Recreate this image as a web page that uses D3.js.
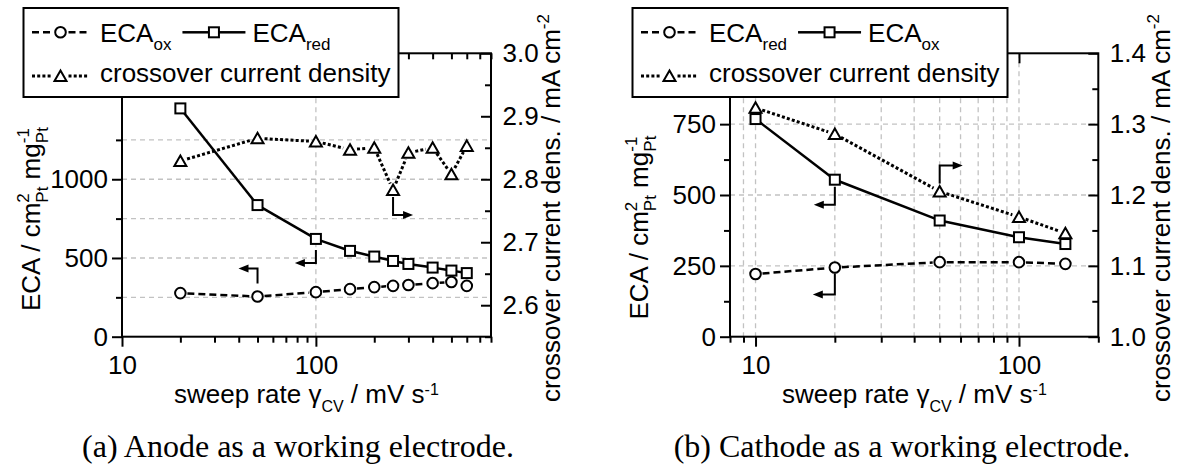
<!DOCTYPE html>
<html>
<head>
<meta charset="utf-8">
<script src="https://cdn.jsdelivr.net/npm/d3@7"></script>
<style>
  body { margin: 0; background: #fff; }
  svg text { font-family: "Liberation Sans", Arial, Helvetica, sans-serif; white-space: pre; }
</style>
</head>
<body>
<svg id="fig" width="1183" height="464"></svg>
<script>
// ---- (a) anode as working electrode ----
const anodeRates      = [20, 50, 100, 150, 200, 250, 300, 400, 500, 600];          // mV s^-1
const anodeEcaOx      = [277, 255, 283, 302, 315, 323, 328, 340, 347, 323];        // cm2 Pt / mg Pt
const anodeEcaRed     = [1450, 836, 621, 545, 509, 481, 462, 439, 420, 404];
const anodeCrossover  = [2.829, 2.865, 2.860, 2.847, 2.850, 2.783, 2.842, 2.850, 2.808, 2.853]; // mA cm^-2

// ---- (b) cathode as working electrode ----
const cathodeRates     = [10, 20, 50, 100, 150];
const cathodeEcaRed    = [221, 244, 263, 263, 257];
const cathodeEcaOx     = [768, 554, 410, 351, 327];
const cathodeCrossover = [1.323, 1.286, 1.205, 1.169, 1.146];

// ---- axis ticks ----
const anodeXMajor   = [10, 100];
const anodeXMinor   = [20, 30, 40, 50, 60, 70, 80, 90, 200, 300, 400, 500, 600, 700, 800];
const anodeXGrid    = [100];
const anodeYLMajor  = [0, 500, 1000];
const anodeYLMinor  = [250, 750, 1250];
const anodeYGrid    = [250, 500, 750, 1000, 1250];
const anodeYRMajor  = [2.6, 2.7, 2.8, 2.9, 3.0];
const anodeYRMinor  = [2.55, 2.65, 2.75, 2.85, 2.95];

const cathodeXMajor  = [10, 100];
const cathodeXMinor  = [8, 9, 20, 30, 40, 50, 60, 70, 80, 90, 200];
const cathodeXGrid   = [9, 10, 20, 30, 40, 50, 60, 70, 80, 90, 100];
const cathodeYLMajor = [0, 250, 500, 750];
const cathodeYLMinor = [125, 375, 625, 875];
const cathodeYGrid   = [250, 500, 750];
const cathodeYRMajor = [1.0, 1.1, 1.2, 1.3, 1.4];
const cathodeYRMinor = [1.05, 1.15, 1.25, 1.35];

// ---- text ----
const xTitle     = ["sweep rate \u03b3", "CV", " / mV s", "-1"];
const yLeftTitle = ["ECA / cm", "2", "Pt", " mg", "-1", "Pt"];
const yRightTitle = ["crossover current dens. / mA cm", "-2"];
const crossoverLabel = "crossover current density";
const captions = ["(a) Anode as a working electrode.", "(b) Cathode as a working electrode."];

const svg = d3.select("#fig");
const BIG = 26, SMALL = 17;

function styleAxis(sel) {
  sel.select(".domain").remove();
  sel.selectAll("line").attr("stroke", "#000").attr("stroke-width", 2);
  sel.selectAll("text").attr("font-size", BIG).attr("fill", "#000")
     .attr("font-family", '"Liberation Sans", Arial, sans-serif');
}

function marker(g, shape, cx, cy) {
  if (shape === "circle") {
    g.append("circle").attr("cx", cx).attr("cy", cy).attr("r", 5.3)
      .attr("fill", "#fff").attr("stroke", "#000").attr("stroke-width", 2);
  } else if (shape === "square") {
    g.append("rect").attr("x", cx - 5).attr("y", cy - 5).attr("width", 10).attr("height", 10)
      .attr("fill", "#fff").attr("stroke", "#000").attr("stroke-width", 2);
  } else {
    g.append("path").attr("d", `M${cx},${cy - 5.5}L${cx + 6},${cy + 5}L${cx - 6},${cy + 5}Z`)
      .attr("fill", "#fff").attr("stroke", "#000").attr("stroke-width", 2).attr("stroke-linejoin", "miter");
  }
}

const lineStyles = {
  dashed: { dash: "7,4", width: 2.5 },
  solid:  { dash: null,  width: 2.5 },
  dotted: { dash: "3,2.2", width: 3 }
};

function drawSeries(g, xs, ys, sx, sy, shape, style) {
  const pts = xs.map((v, i) => [sx(v), sy(ys[i])]);
  const st = lineStyles[style];
  const gap = style === "solid" ? 5 : 7;
  for (let i = 0; i < pts.length - 1; i++) {
    const [x0, y0] = pts[i], [x1, y1] = pts[i + 1];
    const L = Math.hypot(x1 - x0, y1 - y0);
    if (L - 2 * gap < 3) continue;
    const ux = (x1 - x0) / L, uy = (y1 - y0) / L;
    const seg = g.append("line")
      .attr("x1", x0 + ux * gap).attr("y1", y0 + uy * gap)
      .attr("x2", x1 - ux * gap).attr("y2", y1 - uy * gap)
      .attr("stroke", "#000").attr("stroke-width", st.width);
    if (st.dash) seg.attr("stroke-dasharray", st.dash);
  }
  pts.forEach(p => marker(g, shape, p[0], p[1]));
  return pts;
}

// bent pointer telling which axis a curve belongs to
function pointer(g, px, py, a) {
  const yA = py + a.dy0, yB = py + a.dy1, xEnd = px + a.dx, s = Math.sign(a.dx);
  g.append("path").attr("d", `M${px},${yA}V${yB}H${xEnd - s * 8}`)
    .attr("fill", "none").attr("stroke", "#000").attr("stroke-width", 2);
  g.append("path").attr("d", `M${xEnd},${yB}L${xEnd - s * 10},${yB - 4}L${xEnd - s * 10},${yB + 4}Z`)
    .attr("fill", "#000");
}

function rich(parent, parts) {
  // parts: [text, size, dx, dy]
  parts.forEach(p => {
    const t = parent.append("tspan").text(p[0]).attr("font-size", p[1]);
    if (p[2]) t.attr("dx", p[2]);
    if (p[3]) t.attr("dy", p[3]);
  });
  return parent;
}

function drawPanel(c) {
  const g = svg.append("g");
  const x  = d3.scaleLog().domain(c.xDomain).range([c.left, c.right]);
  const yL = d3.scaleLinear().domain(c.yLDomain).range([c.bottom, c.top]);
  const yR = d3.scaleLinear().domain(c.yRDomain).range([c.bottom, c.top]);

  // grid
  const grid = g.append("g").attr("stroke", "#c2c2c2").attr("stroke-width", 1.3).attr("stroke-dasharray", "5,4");
  grid.selectAll("line.gv").data(c.xGrid).join("line").attr("class", "gv")
    .attr("x1", d => x(d)).attr("x2", d => x(d)).attr("y1", c.top).attr("y2", c.bottom);
  grid.selectAll("line.gh").data(c.yGrid).join("line").attr("class", "gh")
    .attr("x1", c.left).attr("x2", c.right).attr("y1", d => yL(d)).attr("y2", d => yL(d));

  // axes
  g.append("g").attr("transform", `translate(0,${c.bottom})`)
    .call(d3.axisBottom(x).tickValues(c.xMajor).tickSize(10).tickPadding(9).tickFormat(d3.format("d"))).call(styleAxis);
  g.append("g").attr("transform", `translate(0,${c.bottom})`)
    .call(d3.axisBottom(x).tickValues(c.xMinor).tickSize(6).tickFormat("")).call(styleAxis);
  g.append("g").attr("transform", `translate(0,${c.top})`)
    .call(d3.axisTop(x).tickValues(c.xMajor).tickSize(-10).tickFormat("")).call(styleAxis);
  if (c.topMinor) {
    g.append("g").attr("transform", `translate(0,${c.top})`)
      .call(d3.axisTop(x).tickValues(c.xMinor).tickSize(-6).tickFormat("")).call(styleAxis);
  }
  g.append("g").attr("transform", `translate(${c.left},0)`)
    .call(d3.axisLeft(yL).tickValues(c.yLMajor).tickSize(10).tickPadding(4).tickFormat(d3.format("d"))).call(styleAxis);
  g.append("g").attr("transform", `translate(${c.left},0)`)
    .call(d3.axisLeft(yL).tickValues(c.yLMinor).tickSize(6).tickFormat("")).call(styleAxis);
  g.append("g").attr("transform", `translate(${c.right},0)`)
    .call(d3.axisRight(yR).tickValues(c.yRMajor).tickSize(-10).tickPadding(11.5).tickFormat(d3.format(".1f"))).call(styleAxis);
  g.append("g").attr("transform", `translate(${c.right},0)`)
    .call(d3.axisRight(yR).tickValues(c.yRMinor).tickSize(-6).tickFormat("")).call(styleAxis);

  g.append("rect").attr("x", c.left).attr("y", c.top)
    .attr("width", c.right - c.left).attr("height", c.bottom - c.top)
    .attr("fill", "none").attr("stroke", "#000").attr("stroke-width", 2);

  // data
  const dg = g.append("g");
  const sCircle = drawSeries(dg, c.rates, c.circleVals, x, yL, "circle", "dashed");
  const sSquare = drawSeries(dg, c.rates, c.squareVals, x, yL, "square", "solid");
  const sTri    = drawSeries(dg, c.rates, c.triVals, x, yR, "triangle", "dotted");
  const byName = { circle: sCircle, square: sSquare, triangle: sTri };
  c.pointers.forEach(p => {
    const pt = byName[p.series][c.rates.indexOf(p.rate)];
    pointer(dg, pt[0], pt[1], p);
  });

  // axis titles
  rich(g.append("text").attr("x", c.xTitleX).attr("y", 403).attr("font-size", BIG), [
    [xTitle[0], BIG], [xTitle[1], 16, 0, 9], [xTitle[2], BIG, 0, -9], [xTitle[3], 16, 0, -8]
  ]);
  rich(g.append("text").attr("transform", `translate(${c.yLTitleX},${c.yLTitleY}) rotate(-90)`).attr("font-size", BIG), [
    [yLeftTitle[0], BIG], [yLeftTitle[1], SMALL, 0, -11], [yLeftTitle[2], SMALL, -9.5, 19],
    [yLeftTitle[3], BIG, 0, -8], [yLeftTitle[4], SMALL, 0, -11], [yLeftTitle[5], SMALL, -15, 19]
  ]);
  rich(g.append("text").attr("transform", `translate(${c.yRTitleX},402) rotate(-90)`).attr("font-size", BIG), [
    [yRightTitle[0], BIG], [yRightTitle[1], SMALL, 0, -11]
  ]);

  // caption
  g.append("text").attr("x", c.captionX).attr("y", 457).attr("text-anchor", "middle")
    .attr("font-size", 32).style("font-family", '"Liberation Serif", "Times New Roman", serif')
    .text(c.caption);

  // legend
  const lg = g.append("g").attr("transform", `translate(${c.legendX},0)`);
  lg.append("rect").attr("x", 0.5).attr("y", 8).attr("width", 375).attr("height", 89)
    .attr("fill", "#fff").attr("stroke", "#000").attr("stroke-width", 2);
  function sample(x0, x1, y, shape, style) {
    const mid = (x0 + x1) / 2, st = lineStyles[style], gap = style === "solid" ? 5 : 8;
    [[x0, mid - gap], [mid + gap, x1]].forEach(([a, b]) => {
      const l = lg.append("line").attr("x1", a).attr("x2", b).attr("y1", y).attr("y2", y)
        .attr("stroke", "#000").attr("stroke-width", st.width);
      if (st.dash) l.attr("stroke-dasharray", st.dash);
    });
    marker(lg, shape, mid, y);
  }
  sample(9, 66, 32.3, "circle", "dashed");
  const t1 = rich(lg.append("text").attr("x", 77).attr("y", 41.7).attr("font-size", BIG),
    [["ECA", BIG], [c.circleSub, SMALL, 0, 8.5]]);
  const t1End = 77 + t1.node().getComputedTextLength();
  sample(t1End + 11, t1End + 74, 32.3, "square", "solid");
  rich(lg.append("text").attr("x", t1End + 81).attr("y", 41.7).attr("font-size", BIG),
    [["ECA", BIG], [c.squareSub, SMALL, 0, 8.5]]);
  sample(9, 66, 76, "triangle", "dotted");
  lg.append("text").attr("x", 77).attr("y", 81.7).attr("font-size", BIG).text(crossoverLabel);
}

drawPanel({
  left: 122, right: 491, top: 53.3, bottom: 336.7,
  xDomain: [10, 800], yLDomain: [0, 1800], yRDomain: [2.55, 3.0],
  xMajor: anodeXMajor, xMinor: anodeXMinor, xGrid: anodeXGrid, topMinor: true,
  yLMajor: anodeYLMajor, yLMinor: anodeYLMinor, yGrid: anodeYGrid,
  yRMajor: anodeYRMajor, yRMinor: anodeYRMinor,
  rates: anodeRates, circleVals: anodeEcaOx, squareVals: anodeEcaRed, triVals: anodeCrossover,
  circleSub: "ox", squareSub: "red",
  pointers: [
    { series: "circle",   rate: 50,  dy0: -13, dy1: -28, dx: -19 },
    { series: "square",   rate: 100, dy0: 11,  dy1: 24,  dx: -21 },
    { series: "triangle", rate: 250, dy0: 7,   dy1: 25,  dx: 20 }
  ],
  xTitleX: 174, yLTitleX: 40, yLTitleY: 311, yRTitleX: 560,
  legendX: 23, captionX: 298, caption: captions[0]
});

drawPanel({
  left: 730, right: 1098.3, top: 53.3, bottom: 336.7,
  xDomain: [8, 200], yLDomain: [0, 1000], yRDomain: [1.0, 1.4],
  xMajor: cathodeXMajor, xMinor: cathodeXMinor, xGrid: cathodeXGrid, topMinor: false,
  yLMajor: cathodeYLMajor, yLMinor: cathodeYLMinor, yGrid: cathodeYGrid,
  yRMajor: cathodeYRMajor, yRMinor: cathodeYRMinor,
  rates: cathodeRates, circleVals: cathodeEcaRed, squareVals: cathodeEcaOx, triVals: cathodeCrossover,
  circleSub: "red", squareSub: "ox",
  pointers: [
    { series: "circle",   rate: 20, dy0: 6,  dy1: 27,  dx: -22 },
    { series: "square",   rate: 20, dy0: 7,  dy1: 25,  dx: -21 },
    { series: "triangle", rate: 50, dy0: -8, dy1: -26, dx: 23 }
  ],
  xTitleX: 782, yLTitleX: 648, yLTitleY: 319.5, yRTitleX: 1170,
  legendX: 632, captionX: 902, caption: captions[1]
});
</script>
</body>
</html>
